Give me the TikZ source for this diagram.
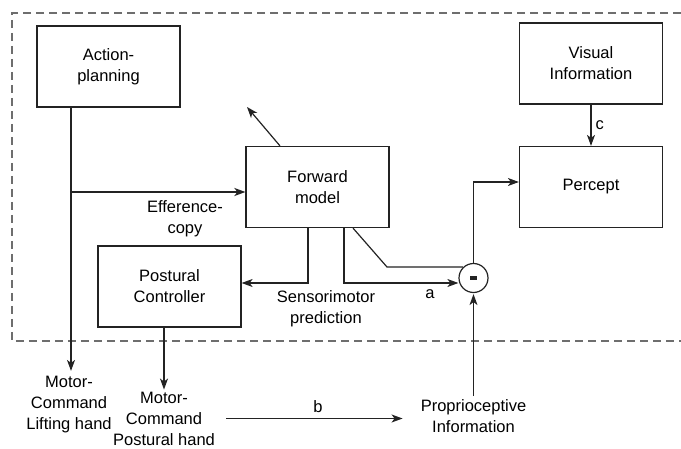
\documentclass[tikz,border=0pt]{standalone}
\usepackage{fontspec}
\setmainfont{Liberation Sans}
\usetikzlibrary{arrows.meta,positioning,calc}
\definecolor{framegray}{RGB}{110,110,110}
\definecolor{linegray}{RGB}{35,35,35}

\tikzset{
  block/.style={draw=linegray, line width=1.2pt, rectangle, minimum width=143pt, minimum height=81pt, align=center, font=\fontsize{16.5}{21}\selectfont},
  lbl/.style={align=center, font=\fontsize{16.5}{21}\selectfont, inner sep=3pt},
  conn/.style={draw=linegray, line width=1.2pt, ->},
}

\begin{document}
\begin{tikzpicture}[x=1pt, y=-1pt, >={Stealth[length=11pt,width=8pt,inset=3pt]}]
    \useasboundingbox (0,0) rectangle (681,449);

    % frame of the model
    \draw[framegray, line width=1.2pt, dash pattern=on 8pt off 5pt] (681,13) -- (12,13) -- (12,341) -- (681,341);

    % blocks
    \node[block] (act) at (108.5,66.5) {Action-\\planning};
    \node[block] (vis) at (591,63.5) {Visual\\Information};
    \node[block] (perc) at (591,187) {Percept};
    \node[block] (fwd) at (317.5,187) {Forward\\model};
    \node[block] (post) at (169.5,286.5) {Postural\\Controller};
    \node[draw=linegray, line width=1.2pt, circle, minimum size=29pt, inner sep=0pt] (dif) at (473.5,278) {};
    \fill[linegray] ($(dif.center)+(-3.5,-2)$) rectangle ($(dif.center)+(3.5,2)$);

    % outside labels
    \node[lbl] (lift) at (69,404.5) {Motor-\\Command\\Lifting hand};
    \node[lbl] (hand) at (164,418.5) {Motor-\\Command\\Postural hand};
    \node[lbl] (prop) at (473.5,416) {Proprioceptive\\Information};
    \node[lbl] (eff) at (185,219) {Efference-\\copy};
    \node[lbl] (pred) at (326,309) {Sensorimotor\\prediction};
    \node[lbl] (a) at (430,294) {a};
    \coordinate (split) at (71,192);
    \coordinate (up) at (247,107);
    \coordinate (bend) at (387,267);

    % connectors
    \draw[conn] (act.south -| split) -- ([yshift=2pt]split |- lift.north);
    \draw[draw=linegray, line width=1.8pt, ->] (split) -- (split -| fwd.west);
    \draw[conn] ([xshift=-37.5pt]fwd.north) -- (up);
    \draw[conn] ([xshift=-9.5pt]fwd.south) |- ([yshift=3.5pt]post.east);
    \draw[conn] ([xshift=26.5pt]fwd.south) |- ([yshift=-5pt]dif.west);
    \draw[draw=linegray, line width=1.2pt] ([xshift=35.5pt]fwd.south) -- (bend) -- (bend -| dif.north west);
    \draw[conn] (dif.north) |- ([yshift=5pt]perc.west);
    \draw[conn, shorten >=1pt] (prop.north) -- (dif.south);
    \draw[conn] (vis.south) -- node[right=4pt, lbl, inner sep=0pt] (c) {c} (perc.north);
    \draw[conn] (post.south -| hand.north) -- ([yshift=-1pt]hand.north);
    \draw[conn, shorten <=8pt, shorten >=15pt] (hand.east) -- node[above=5pt, lbl, inner sep=0pt] (b) {b} (hand.east -| prop.west);
\end{tikzpicture}
\end{document}
